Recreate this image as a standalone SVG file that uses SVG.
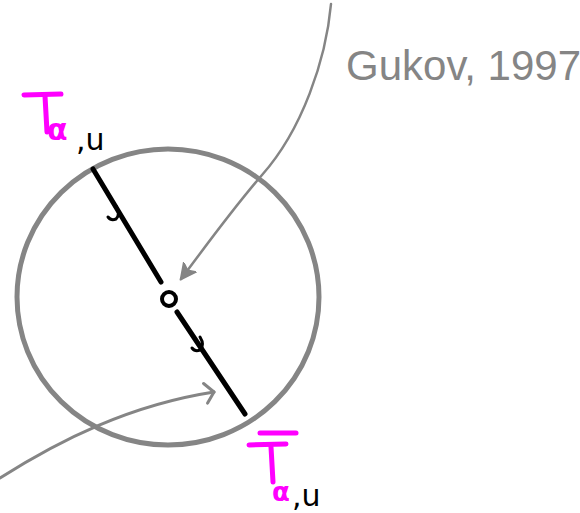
<svg xmlns="http://www.w3.org/2000/svg" width="580" height="513" viewBox="0 0 580 513">
<style>
.gray{stroke:#858585;fill:none;stroke-linecap:round;stroke-linejoin:round}
.blk{stroke:#000;fill:none;stroke-linecap:round;stroke-linejoin:round}
.mag{fill:#ff00ff;font-family:"DejaVu Sans",sans-serif;font-weight:bold}
.blt{fill:#000;font-family:"DejaVu Sans",sans-serif}
.bar{stroke:#ff00ff;stroke-width:5;stroke-linecap:round}
</style>
<defs>
<marker id="solidHead" markerWidth="20" markerHeight="18" refX="15" refY="9" orient="auto" markerUnits="userSpaceOnUse">
<path d="M0,1 L16,9 L0,17 L4,9 Z" fill="#858585" stroke="#858585" stroke-width="1.5" stroke-linejoin="round"/>
</marker>
<marker id="openHead" markerWidth="14" markerHeight="24" refX="11" refY="12" orient="auto" markerUnits="userSpaceOnUse">
<path d="M2,2 L11,12 L3,22" fill="none" stroke="#858585" stroke-width="3" stroke-linecap="round" stroke-linejoin="round"/>
</marker>
</defs>
<rect width="580" height="513" fill="#fff"/>
<g id="disk">
<ellipse cx="168" cy="297" rx="151" ry="148" class="gray" stroke-width="5"/>
</g>
<g id="line">
<path d="M93,169 L161,282" class="blk" stroke-width="5"/>
<path d="M177,312 L245,414" class="blk" stroke-width="5"/>
<path d="M116,206 Q121,214 116,219 Q111,221 108,217" class="blk" stroke-width="3"/>
<path d="M200,337 Q205,345 200,350 Q195,352 192,348" class="blk" stroke-width="3"/>
</g>
<g id="puncture">
<circle cx="169" cy="299" r="7" fill="#fff" stroke="#000" stroke-width="4"/>
</g>
<g id="connectors">
<path d="M331,4 C326,60 302,130 262,175 C230,212 203,250 181,279" class="gray" stroke-width="2.5" marker-end="url(#solidHead)"/>
<path d="M0,478 C60,440 130,405 214,392" class="gray" stroke-width="3" marker-end="url(#openHead)"/>
</g>
<g id="label-top">
<line x1="24" y1="95" x2="61" y2="94" class="bar"/>
<line x1="45" y1="96" x2="47" y2="132" class="bar"/>
<text x="47" y="140" class="mag" font-size="30">α</text>
<text x="76" y="150" class="blt" font-size="30">,u</text>
</g>
<g id="label-bottom">
<line x1="260" y1="433" x2="296" y2="433" class="bar"/>
<line x1="249" y1="445" x2="286" y2="444" class="bar"/>
<line x1="271" y1="447" x2="273" y2="482" class="bar"/>
<text x="272" y="501" class="mag" font-size="26">α</text>
<text x="292" y="506" class="blt" font-size="30">,u</text>
</g>
<g id="citation">
<text x="346" y="80" font-family="Liberation Sans, sans-serif" font-size="42" fill="#858585">Gukov, 1997</text>
</g>
</svg>
